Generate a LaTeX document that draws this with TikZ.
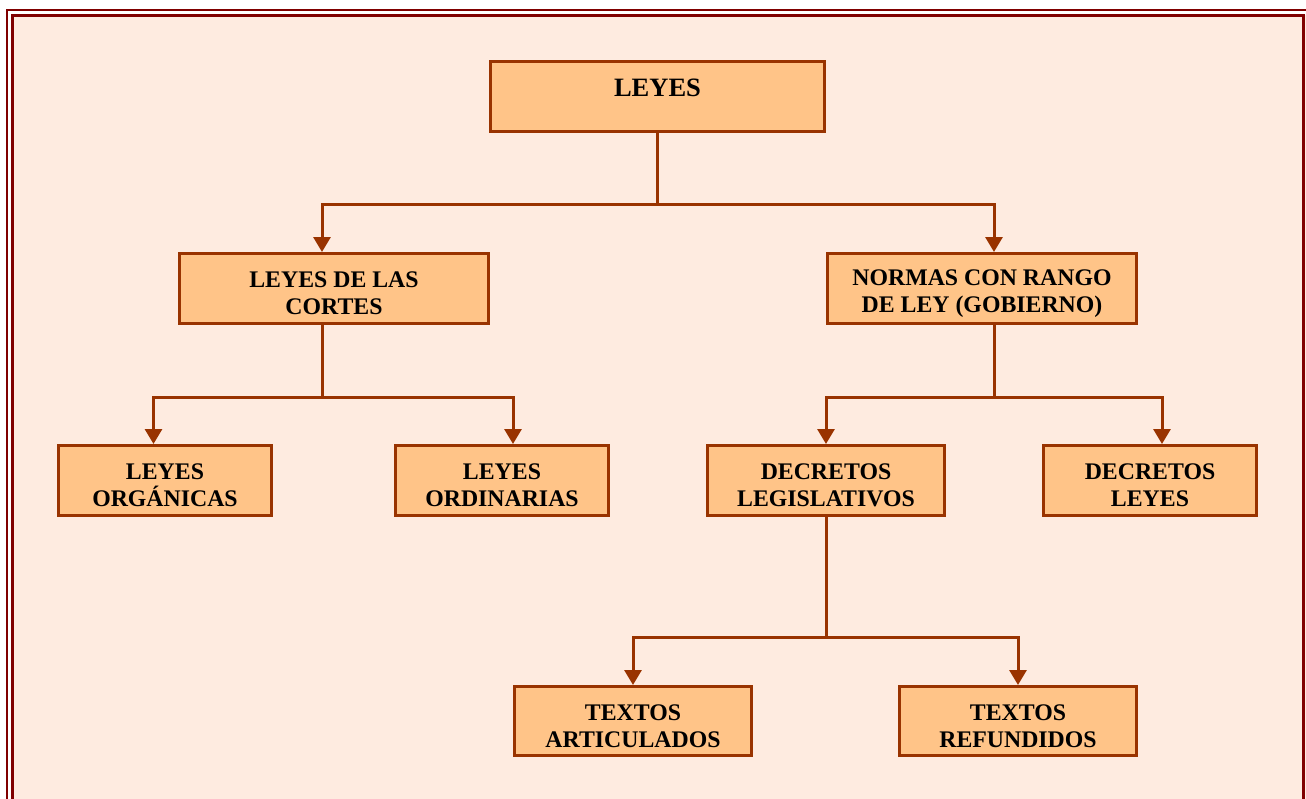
\documentclass[tikz,border=0pt]{standalone}
\usepackage{fontspec}
\setmainfont{Liberation Serif}
\usetikzlibrary{arrows.meta,positioning}
\definecolor{fondo}{HTML}{FEEBE0}
\definecolor{naranja}{HTML}{FFC488}
\definecolor{marron}{HTML}{993300}
\definecolor{granate}{HTML}{800000}
\tikzset{>={Triangle[width=17pt,length=15pt]},
         bloque/.style={draw=marron, line width=3pt, fill=naranja, align=center, inner sep=0pt,
           text height=53pt, font=\bfseries\fontsize{23.8}{27}\selectfont},
         conector/.style={draw=marron, line width=3pt}}

\begin{document}
\begin{tikzpicture}[x=1pt,y=1pt]
  \useasboundingbox (0,0) rectangle (1306,-798);
  \fill[white] (0,0) rectangle (1306,-798);
  \fill[fondo] (12,-15) rectangle (1310,-810);
  \draw[granate, line width=2.5pt] (7,-10) rectangle (1312,-812);
  \draw[granate, line width=3pt] (12,-15) rectangle (1303.5,-806);

  \node[bloque, minimum width=334pt, minimum height=70pt, text height=14pt, text depth=14pt,
        font=\bfseries\fontsize{26.5}{32}\selectfont] (leyes) at (657.5,-96.5) {LEYES};
  \node[bloque, minimum width=309pt, minimum height=70pt] (cortes) at (334,-288.5) {LEYES DE LAS\\CORTES};
  \node[bloque, minimum width=309pt, minimum height=70pt] (normas) at (982,-288.5) {NORMAS CON RANGO\\DE LEY (GOBIERNO)};
  \node[bloque, minimum width=213pt, minimum height=70pt] (organicas) at (165,-480.5) {LEYES\\ORGÁNICAS};
  \node[bloque, minimum width=213pt, minimum height=70pt] (ordinarias) at (502,-480.5) {LEYES\\ORDINARIAS};
  \node[bloque, minimum width=237pt, minimum height=70pt] (legislativos) at (826,-480.5) {DECRETOS\\LEGISLATIVOS};
  \node[bloque, minimum width=213pt, minimum height=70pt] (decretosleyes) at (1150,-480.5) {DECRETOS\\LEYES};
  \node[bloque, minimum width=237pt, minimum height=69pt] (articulados) at (633,-721) {TEXTOS\\ARTICULADOS};
  \node[bloque, minimum width=237pt, minimum height=69pt] (refundidos) at (1018,-721) {TEXTOS\\REFUNDIDOS};

  \draw[conector] (leyes.south) -- ++(0,-71.5) coordinate (ramaA);
  \draw[conector,->] (ramaA) -| ([xshift=-12pt]cortes.north);
  \draw[conector,->] (ramaA) -| ([xshift=12pt]normas.north);

  \draw[conector] ([xshift=-12pt]cortes.south) -- ++(0,-72.5) coordinate (ramaB);
  \draw[conector,->] (ramaB) -| ([xshift=-11.5pt]organicas.north);
  \draw[conector,->] (ramaB) -| ([xshift=11pt]ordinarias.north);

  \draw[conector] ([xshift=12pt]normas.south) -- ++(0,-72.5) coordinate (ramaC);
  \draw[conector,->] (ramaC) -| (legislativos.north);
  \draw[conector,->] (ramaC) -| ([xshift=12pt]decretosleyes.north);

  \draw[conector] (legislativos.south) -- ++(0,-120.5) coordinate (ramaD);
  \draw[conector,->] (ramaD) -| (articulados.north);
  \draw[conector,->] (ramaD) -| (refundidos.north);
\end{tikzpicture}
\end{document}
